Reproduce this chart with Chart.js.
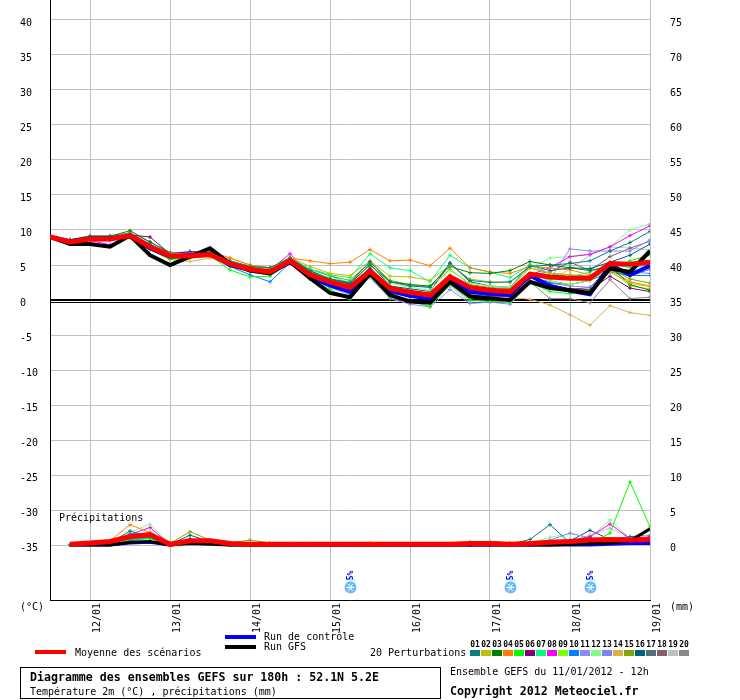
<!DOCTYPE html>
<html><head><meta charset="utf-8">
<script src="https://cdn.jsdelivr.net/npm/chart.js@4.4.1/dist/chart.umd.min.js"></script>
<style>html,body{margin:0;padding:0;background:#fff}#wrap{width:740px;height:700px;position:relative}</style>
</head><body><div id="wrap"><canvas id="c"></canvas></div>
<script>
// ---- Data (hours since 11/01/2012 12h) ----
const hours = [0,6,12,18,24,30,36,42,48,54,60,66,72,78,84,90,96,102,108,114,120,126,132,138,144,150,156,162,168,174,180];
const dayTickHours = [12,36,60,84,108,132,156,180];
const dayLabels = ['12/01','13/01','14/01','15/01','16/01','17/01','18/01','19/01'];
const tempTicks = [40,35,30,25,20,15,10,5,0,-5,-10,-15,-20,-25,-30,-35];
const rightTickLabels = ['75','70','65','60','55','50','45','40','35','30','25','20','15','10','5','0'];
const precipZero = -35; // precipitation 0 mm sits on the -35 °C line
const snowHours = [90,138,162];
const snowLabels = ['5%','5%','5%'];

// Temperature 2m (°C)
const tMean = [9.0,8.3,8.7,8.7,9.2,7.6,6.3,6.3,6.5,5.2, 4.4,4.0,5.6,3.6,2.6,1.8,4.1,1.7,1.1,0.7, 3.3,1.8,1.4,1.2,3.7,3.3,3.1,3.1,5.2,5.1,5.4];
const tCtrl = [9.0,8.4,8.8,8.8,9.1,7.4,6.2,6.4,6.6,5.0, 4.3,3.9,5.4,3.3,2.1,1.2,4.3,1.3,0.6,0.2, 3.0,1.2,0.9,0.8,3.5,2.0,1.3,0.8,5.0,3.6,4.9];
const tGfs  = [9.0,8.0,8.0,7.6,9.2,6.4,5.0,6.2,7.4,5.2, 4.2,3.8,5.5,3.1,1.0,0.4,3.8,0.7,-0.2,-0.4, 2.6,0.5,0.2,0.0,2.6,1.7,1.4,1.0,4.5,4.0,7.0];
const t01 = [9.0,8.4,9.0,9.0,9.5,8.0,6.4,6.6,6.7,5.5, 4.8,4.6,6.0,4.2,3.0,2.5,5.5,2.6,2.0,1.8, 5.2,2.8,2.5,2.6,4.8,5.0,5.2,5.6,7.0,8.2,9.8];
const t02 = [9.0,8.5,8.9,8.9,9.4,7.8,6.6,6.6,6.6,5.4, 4.6,4.5,6.0,4.8,3.8,3.5,5.6,3.4,3.3,2.8, 5.0,3.0,2.6,2.5,4.6,3.8,3.6,3.2,4.0,2.4,1.9];
const t03 = [9.0,8.6,9.1,9.1,9.9,8.3,6.7,6.5,6.5,5.5, 4.6,4.2,5.8,4.0,3.0,2.4,5.0,2.6,2.2,2.0, 4.8,3.9,3.8,4.2,5.5,5.0,4.6,4.2,4.8,2.2,1.4];
const t04 = [9.0,8.4,8.8,8.9,9.3,7.6,6.2,6.5,7.0,6.0, 5.0,4.6,6.0,5.6,5.2,5.4,7.2,5.6,5.7,4.9, 7.4,4.6,4.0,3.8,4.8,4.6,4.3,3.6,4.4,2.6,2.0];
const t05 = [9.0,8.1,8.6,8.6,9.0,7.2,5.8,6.0,6.3,4.3, 3.3,3.4,5.4,3.0,1.5,0.1,3.4,0.4,-0.2,-0.9, 2.2,0.0,-0.2,-0.3,2.5,1.2,0.9,1.4,4.2,5.6,6.4];
const t06 = [9.0,8.5,8.9,9.0,9.3,9.0,6.6,6.9,6.8,5.4, 4.6,4.2,5.7,3.6,2.4,1.6,4.0,1.2,0.8,0.3, 2.9,1.0,0.6,0.5,3.2,2.2,1.6,1.5,3.4,1.7,1.2];
const t07 = [9.0,8.3,8.8,8.8,9.2,7.8,6.5,6.4,6.6,5.6, 4.8,4.6,6.1,4.4,3.6,3.2,6.6,4.6,4.2,2.6, 6.4,4.6,4.0,3.2,5.0,3.8,3.3,4.0,5.2,4.6,5.0];
const t08 = [9.0,8.3,8.5,7.9,9.0,7.7,6.4,6.5,6.6,5.2, 4.5,4.3,6.6,3.8,2.6,1.8,4.2,1.6,1.0,0.6, 3.4,1.8,1.5,1.3,3.6,4.6,6.2,6.5,7.6,9.2,10.6];
const t09 = [9.0,8.0,8.6,8.7,9.2,7.5,6.0,6.0,6.4,5.0, 4.2,3.8,5.5,3.5,2.4,1.5,4.3,1.6,0.8,0.5, 3.6,1.4,1.2,0.9,3.8,2.8,2.2,2.8,4.4,2.0,1.6];
const t10 = [9.0,8.4,8.6,8.6,8.9,7.4,6.1,6.3,6.4,4.8, 3.6,2.6,5.3,3.4,2.2,1.2,4.0,1.2,0.4,0.2, 2.9,1.1,0.8,0.7,3.4,2.5,2.2,2.8,4.0,3.5,3.5];
const t11 = [9.0,8.5,8.9,9.0,9.3,8.0,6.6,6.8,6.7,5.1, 4.2,3.8,5.4,3.0,1.8,0.8,3.2,0.2,-0.6,-1.0, 1.5,-0.5,-0.3,-0.6,2.4,3.0,7.3,7.0,7.0,7.0,8.6];
const t12 = [9.0,8.3,8.7,8.7,9.1,7.6,6.3,6.4,6.6,5.4, 4.7,4.4,5.9,4.0,3.2,2.6,5.0,2.4,1.8,1.4, 4.2,2.4,2.0,1.8,4.6,6.0,6.2,6.6,7.6,10.0,10.9];
const t13 = [9.0,8.4,8.8,8.9,9.2,7.9,6.7,6.9,6.8,5.3, 4.5,4.2,5.8,3.8,2.6,1.8,4.0,1.4,0.8,0.5, 3.0,1.3,0.8,0.4,3.5,2.4,2.0,1.8,4.8,4.0,3.8];
const t14 = [9.0,8.6,8.9,8.8,9.3,7.2,5.8,5.5,6.0,6.0, 5.0,4.6,5.8,3.8,2.6,1.6,4.4,1.8,1.0,0.6, 3.0,1.2,0.8,0.4,0.1,-0.7,-2.1,-3.6,-0.8,-1.8,-2.2];
const t15 = [9.0,8.2,8.6,8.8,9.4,7.4,6.0,6.1,6.2,5.2, 4.5,4.3,5.9,4.4,3.4,2.8,5.4,2.8,2.2,1.8, 4.4,2.2,1.8,1.6,4.6,3.8,3.6,3.4,4.6,3.0,2.4];
const t16 = [9.0,8.6,9.0,8.9,9.4,7.8,6.4,6.4,6.5,5.6, 4.8,4.4,6.0,4.2,3.0,2.2,5.2,2.0,1.6,1.2, 5.3,2.6,2.0,1.8,5.0,4.2,4.6,4.5,5.4,6.4,8.0];
const t17 = [9.0,8.5,8.9,8.8,9.3,7.6,6.2,6.3,6.4,4.9, 4.1,3.7,5.5,3.3,2.2,1.2,3.9,1.0,0.5,0.1, 2.6,0.8,0.5,0.6,3.2,2.2,1.5,1.8,4.2,3.4,4.4];
const t18 = [9.0,8.4,8.8,8.8,9.2,7.7,6.5,6.6,6.6,5.3, 4.4,4.0,5.6,3.4,2.2,1.4,3.8,1.2,0.7,0.4, 3.1,1.2,0.9,1.0,3.6,4.0,5.4,4.2,6.2,7.4,8.4];
const t19 = [9.0,8.4,8.8,8.9,9.2,7.8,6.5,6.6,6.7,5.0, 4.0,3.6,5.4,3.0,1.8,0.8,3.4,0.3,-0.3,-0.5, 2.0,-0.3,-0.2,-0.4,2.6,2.8,4.4,6.4,7.6,7.4,7.2];
const t20 = [9.0,8.6,9.2,9.2,9.6,8.3,6.8,6.8,6.8,5.6, 4.8,4.6,5.6,4.4,3.6,2.2,4.6,1.6,1.0,0.6, 3.4,1.4,1.0,0.8,2.6,0.2,0.2,-0.4,2.9,0.2,0.4];

// Precipitation (mm / 6h)
const pMean = [null, 0.1,0.3,0.5,1.2,1.5,0.1,0.6,0.6,0.2, 0.1,0.1,0.1,0.1,0.1,0.1,0.1,0.1,0.1,0.1, 0.1,0.2,0.2,0.1,0.2,0.4,0.5,0.7,0.8,0.7,0.8];
const pCtrl = [null, 0,0,0,0.3,0.4,0,0.4,0.3,0, 0,0,0,0,0,0,0,0,0,0, 0,0,0,0,0,0,0,0,0.1,0.2,0.2];
const pGfs  = [null, 0,0,0,0.4,0.5,0,0.2,0.1,0, 0,0,0,0,0,0,0,0,0,0, 0,0,0,0,0,0,0.1,0.2,0.3,0.6,2.3];
const p01 = [null, 0,0.1,0.3,2.0,1.2,0.1,0.9,0.4,0.1, 0,0,0,0,0,0,0,0,0,0, 0,0,0,0.1,0.8,2.9,0.3,1.0,0.4,0.5,0.6];
const p02 = [null, 0,0.1,0.4,1.2,1.6,0.1,0.6,0.5,0.2, 0.1,0,0,0,0,0,0,0,0,0, 0,0,0,0,0.2,0.3,0.2,0.5,0.8,0.5,0.4];
const p03 = [null, 0,0.1,0.3,1.0,1.3,0.2,0.8,0.6,0.2, 0,0,0,0,0,0,0,0,0,0, 0,0,0,0.1,0.3,0.2,0.4,0.6,0.7,0.9,0.8];
const p04 = [null, 0,0.2,0.6,2.9,1.8,0.3,0.5,0.5,0.2, 0.1,0.1,0.1,0.2,0.1,0.1,0.3,0.1,0,0, 0.1,0.4,0.5,0.3,0.1,0.2,0.3,0.4,0.5,0.3,0.4];
const p05 = [null, 0,0,0.2,0.8,0.9,0,0.3,0.2,0, 0,0,0,0,0,0,0,0,0,0, 0,0,0,0,0,0.1,0.1,0.2,1.7,9.0,2.6];
const p06 = [null, 0,0.1,0.2,0.9,1.2,0.1,0.4,0.3,0.1, 0,0,0,0,0,0,0,0,0,0, 0,0,0,0,0,0.1,0.2,0.3,0.4,0.6,0.5];
const p07 = [null, 0,0.1,0.3,1.2,1.8,0.1,0.6,0.4,0.2, 0,0.1,0,0,0,0,0,0,0,0, 0,0,0,0,0.2,0.4,0.8,0.7,0.9,0.6,0.5];
const p08 = [null, 0,0.1,0.4,1.5,2.5,0.1,0.7,0.5,0.2, 0,0,0,0,0,0,0,0,0,0, 0,0,0,0,0.1,0.3,0.6,1.2,3.0,0.9,1.2];
const p09 = [null, 0,0.1,0.3,1.1,1.4,0.2,0.6,0.4,0.1, 0,0,0,0,0,0,0,0,0,0, 0,0,0,0,0.2,0.3,0.5,0.6,0.7,0.5,0.4];
const p10 = [null, 0,0,0.1,0.6,1.0,0,0.5,0.3,0.1, 0,0,0,0,0,0,0,0,0,0, 0,0,0,0,0.1,0.1,0.2,0.3,0.2,0.4,0.3];
const p11 = [null, 0,0.1,0.3,1.0,1.4,0.1,0.5,0.4,0.2, 0,0,0,0,0,0,0,0,0,0, 0,0,0,0,0.3,0.7,1.7,1.0,0.6,0.8,0.7];
const p12 = [null, 0,0.1,0.4,1.8,3.0,0.1,0.7,0.5,0.2, 0.1,0,0,0,0,0,0,0,0,0, 0,0,0,0,0.3,1.1,1.6,1.1,3.6,0.9,1.5];
const p13 = [null, 0,0.1,0.2,0.9,1.1,0.1,0.5,0.3,0.1, 0,0,0,0,0,0,0,0,0,0, 0,0,0,0.1,0.2,0.4,0.6,0.5,0.6,0.5,0.4];
const p14 = [null, 0,0.2,0.5,1.2,1.4,0.2,0.5,0.5,0.3, 0.2,0.1,0.1,0.1,0.1,0.1,0.1,0.1,0.1,0.1, 0.2,0.4,0.5,0.3,0.2,0.2,0.3,0.2,0.3,0.4,0.3];
const p15 = [null, 0,0.1,0.3,1.1,1.3,0.2,1.9,0.7,0.3, 0.7,0.3,0.2,0.1,0.1,0.1,0,0,0,0, 0,0,0,0,0.2,0.3,0.4,0.5,0.4,0.3,0.3];
const p16 = [null, 0,0.1,0.3,1.6,1.5,0.1,1.4,0.5,0.2, 0,0,0,0,0,0,0,0,0,0, 0,0,0,0,0.1,0.4,0.6,2.1,0.8,1.2,1.4];
const p17 = [null, 0,0.1,0.3,1.5,1.3,0.1,0.7,0.4,0.2, 0,0,0,0,0,0,0,0,0,0, 0,0,0,0.1,0.2,0.3,0.4,0.6,0.7,0.6,0.5];
const p18 = [null, 0,0.1,0.2,0.8,1.0,0,0.4,0.3,0.1, 0,0,0,0,0,0,0,0,0,0, 0,0,0,0,0.1,0.2,0.3,0.4,0.3,0.2,0.3];
const p19 = [null, 0,0.1,0.2,0.9,1.2,0.1,0.4,0.3,0.1, 0,0,0,0,0,0,0,0,0,0, 0,0,0,0,0.1,0.3,0.6,1.4,2.4,1.0,0.8];
const p20 = [null, 0,0.1,0.3,1.3,1.0,0.1,0.6,0.5,0.2, 0,0,0,0,0,0,0,0,0,0, 0,0,0,0,0.1,0.2,0.3,0.4,0.3,0.3,0.2];

const pertNames = ['01','02','03','04','05','06','07','08','09','10','11','12','13','14','15','16','17','18','19','20'];
const pertColors = ['#008080','#c0c000','#008000','#ff8000','#00ff00','#800080','#00ff80','#ff00ff','#80ff00','#0080ff','#8888ff','#80ff80','#8080ff','#e0b040','#80a800','#006080','#507078','#806070','#c0c0c0','#888888'];
const pertTemps = [t01,t02,t03,t04,t05,t06,t07,t08,t09,t10,t11,t12,t13,t14,t15,t16,t17,t18,t19,t20];
const pertPrecs = [p01,p02,p03,p04,p05,p06,p07,p08,p09,p10,p11,p12,p13,p14,p15,p16,p17,p18,p19,p20];

// ---- Build datasets ----
const toPts = arr => arr.map((v,i)=>({x:hours[i], y:v}));
const toPrecPts = arr => arr.map((v,i)=>({x:hours[i], y:(v===null?null:v+precipZero)}));
const FONT = '"DejaVu Sans Mono", monospace';

const datasets = [];
function addLine(data, color, width, order, markers){
  datasets.push({data, borderColor:color, backgroundColor:color, borderWidth:width, order,
    tension:0, fill:false, spanGaps:false,
    pointStyle:'cross', pointRadius:markers?2:0, pointBorderWidth:1, pointHoverRadius:0,
    borderJoinStyle:'miter'});
}
addLine(toPts(tMean), '#ff0000', 5, 0, false);
addLine(toPrecPts(pMean), '#ff0000', 5, 0, false);
addLine(toPts(tGfs), '#000000', 4, 1, false);
addLine(toPrecPts(pGfs), '#000000', 3, 1, false);
addLine(toPts(tCtrl), '#0000ff', 4, 2, false);
addLine(toPrecPts(pCtrl), '#0000ff', 3, 2, false);
pertTemps.forEach((t,k)=>{
  addLine(toPts(t), pertColors[k], 1, 3+k, true);
  addLine(toPrecPts(pertPrecs[k]), pertColors[k], 1, 3+k, true);
});

const deco = {
  id:'deco',
  beforeDatasetsDraw(chart){
    const {ctx, chartArea:a, scales:{y}} = chart;
    const y0 = Math.round(y.getPixelForValue(0));
    ctx.save(); ctx.fillStyle='#000';
    ctx.fillRect(a.left, y0-1, a.right-a.left, 2);
    ctx.fillRect(a.left, y0+2, a.right-a.left, 1);
    ctx.restore();
  },
  afterDraw(chart){
    const {ctx, chartArea:a, scales:{x,y}} = chart;
    ctx.save();
    ctx.fillStyle='#000';
    ctx.font = '10px '+FONT;
    ctx.textBaseline='middle';
    ctx.textAlign='left';
    tempTicks.forEach((v,i)=>{
      const py = y.getPixelForValue(v)+3;
      ctx.fillText(String(v), 20, py);
      ctx.fillText(rightTickLabels[i], 670, py);
    });
    ctx.fillText('(°C)', 20, 607);
    ctx.fillText('(mm)', 670, 607);
    ctx.fillText('Précipitations', 59, 518);
    // x labels rotated
    dayTickHours.forEach((h,i)=>{
      const px = x.getPixelForValue(h)+7.5;
      ctx.save(); ctx.translate(px, 603); ctx.rotate(-Math.PI/2);
      ctx.textAlign='right'; ctx.textBaseline='middle';
      ctx.fillText(dayLabels[i], 0, 0);
      ctx.restore();
    });
    // snow icons
    snowHours.forEach((h,i)=>{
      const px = x.getPixelForValue(h)+0.5;
      ctx.fillStyle='#c8ffff';
      ctx.fillRect(px-4, 579, 9, 4);
      ctx.save(); ctx.translate(px, 575.5); ctx.rotate(-Math.PI/2);
      ctx.fillStyle='#0000ff'; ctx.font='bold 8px '+FONT;
      ctx.textAlign='center'; ctx.textBaseline='middle';
      ctx.fillText(snowLabels[i],0,0);
      ctx.restore();
      ctx.fillStyle='#74b8f0';
      ctx.beginPath(); ctx.arc(px, 587.5, 6, 0, Math.PI*2); ctx.fill();
      ctx.strokeStyle='#ffffff'; ctx.lineWidth=1;
      for(let k=0;k<3;k++){
        const ang = k*Math.PI/3;
        ctx.beginPath();
        ctx.moveTo(px-4*Math.cos(ang), 587.5-4*Math.sin(ang));
        ctx.lineTo(px+4*Math.cos(ang), 587.5+4*Math.sin(ang));
        ctx.stroke();
      }
    });
    // legend
    ctx.fillStyle='#ff0000'; ctx.fillRect(35, 650, 31, 4);
    ctx.fillStyle='#0000ff'; ctx.fillRect(225, 635, 31, 4);
    ctx.fillStyle='#000000'; ctx.fillRect(225, 645, 31, 4);
    ctx.fillStyle='#000';
    ctx.font='10px '+FONT; ctx.textAlign='left'; ctx.textBaseline='middle';
    ctx.fillText('Moyenne des scénarios', 75, 653);
    ctx.fillText('Run de contrôle', 264, 637.5);
    ctx.fillText('Run GFS', 264, 647.5);
    ctx.fillText('20 Perturbations', 370, 653);
    pertNames.forEach((n,k)=>{
      const bx = 470 + k*11;
      ctx.fillStyle = pertColors[k];
      ctx.fillRect(bx, 650, 10, 6);
      ctx.fillStyle = '#000';
      ctx.font = 'bold 8px '+FONT; ctx.textAlign='center';
      ctx.fillText(n, bx+5, 645);
    });
    // title box
    ctx.strokeStyle='#000'; ctx.lineWidth=1;
    ctx.strokeRect(20.5, 667.5, 420, 31);
    ctx.textAlign='left';
    ctx.font='bold 11.6px '+FONT;
    ctx.fillText('Diagramme des ensembles GEFS sur 180h : 52.1N 5.2E', 30, 677.5);
    ctx.font='10px '+FONT;
    ctx.fillText('Température 2m (°C) , précipitations (mm)', 30, 692.5);
    ctx.fillText('Ensemble GEFS du 11/01/2012 - 12h', 450, 672.5);
    ctx.font='bold 11.6px '+FONT;
    ctx.fillText('Copyright 2012 Meteociel.fr', 450, 692);
    ctx.restore();
  }
};

new Chart(document.getElementById('c'), {
  type:'line',
  data:{datasets},
  options:{
    responsive:true, maintainAspectRatio:false, animation:false,
    layout:{autoPadding:false, padding:{left:0,right:90,top:0,bottom:0}},
    plugins:{legend:{display:false}, tooltip:{enabled:false}, title:{display:false}},
    events:[],
    scales:{
      x:{type:'linear', min:0, max:180,
        afterBuildTicks:s=>{ s.ticks = dayTickHours.map(v=>({value:v})); },
        afterFit:s=>{ s.height = 100; },
        ticks:{display:false},
        grid:{color:'#c0c0c0', lineWidth:1, drawTicks:false},
        border:{display:true, color:'#000', width:1}
      },
      y:{type:'linear', min:-300/7, max:300/7,
        afterBuildTicks:s=>{ s.ticks = tempTicks.map(v=>({value:v})); },
        afterFit:s=>{ s.width = 50; },
        ticks:{display:false},
        grid:{color:'#c0c0c0', lineWidth:1, drawTicks:false},
        border:{display:true, color:'#000', width:1}
      }
    }
  },
  plugins:[deco]
});
</script>
</body></html>
